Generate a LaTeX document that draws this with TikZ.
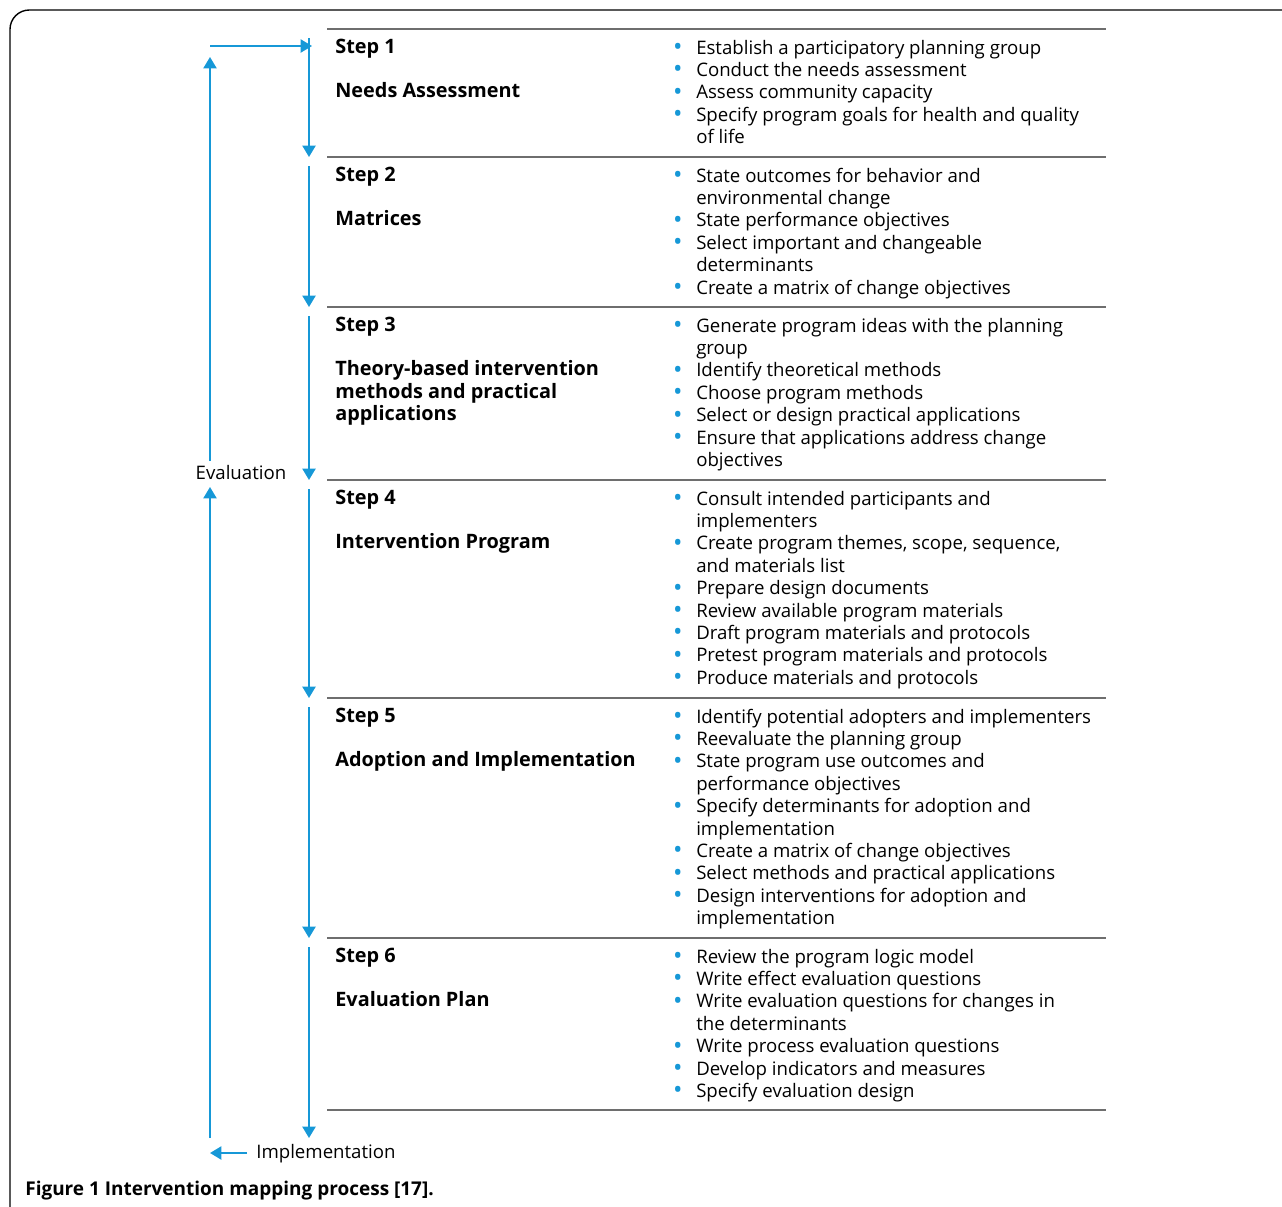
\documentclass[tikz,border=0pt]{standalone}
\usepackage{fontspec}
\setmainfont{Open Sans}
\usetikzlibrary{arrows.meta,positioning}
\definecolor{mapBlue}{RGB}{22,152,215}
\definecolor{ruleGray}{RGB}{110,110,110}
\newcommand{\mapbul}{\makebox[13.6pt][l]{\hspace{0.5pt}\raisebox{-0.8pt}{\scalebox{1.35}{\textcolor{mapBlue}{\textbullet}}}}}
\newcommand{\mapcont}{\hspace*{13.6pt}}
\begin{document}
\begin{tikzpicture}[
    x=0.02cm,y=-0.02cm,
    stepBox/.style={anchor=north west,inner sep=0pt,align=left,font=\fontsize{11.3}{12.76}\selectfont\bfseries},
    listBox/.style={anchor=north west,inner sep=0pt,align=left,font=\fontsize{10.6}{12.76}\selectfont},
    sideLabel/.style={inner sep=0pt,font=\fontsize{10.6}{12.76}\selectfont},
    mapArrow/.style={-{Triangle[length=6.5pt,width=7.5pt]},draw=mapBlue,line width=1.1pt},
    mapRule/.style={draw=ruleGray,line width=1.3pt},
]
\useasboundingbox (0,0) rectangle (1282,1207);
% outer frame (cut at the right and bottom)
\draw[line width=0.8pt,rounded corners=11pt] (10,1210) |- (1290,10);
% rules between the steps
\foreach \i/\y in {0/29,1/157,2/307,3/480,4/698,5/938,6/1110}{
  \coordinate (r\i w) at (327,\y);
  \coordinate (r\i e) at (1106,\y);
  \coordinate (a\i) at (309,\y+9);
  \coordinate (b\i) at (309,\y);
  \draw[mapRule] (r\i w) -- (r\i e);
}
% step names
\node[stepBox] (s1) at (335,37) {\strut Step 1\\[12.76pt]Needs Assessment};
\node[stepBox] (s2) at (335,165) {\strut Step 2\\[12.76pt]Matrices};
\node[stepBox] (s3) at (335,315) {\strut Step 3\\[12.76pt]Theory-based intervention\\methods and practical\\applications};
\node[stepBox] (s4) at (335,488) {\strut Step 4\\[12.76pt]Intervention Program};
\node[stepBox] (s5) at (335,706) {\strut Step 5\\[12.76pt]Adoption and Implementation};
\node[stepBox] (s6) at (335,946) {\strut Step 6\\[12.76pt]Evaluation Plan};
% tasks of each step
\node[listBox] (l1) at (672,38) {\strut\mapbul Establish a participatory planning group\\
  \mapbul Conduct the needs assessment\\
  \mapbul Assess community capacity\\
  \mapbul Specify program goals for health and quality\\
  \mapcont of life};
\node[listBox] (l2) at (672,166) {\strut\mapbul State outcomes for behavior and\\
  \mapcont environmental change\\
  \mapbul State performance objectives\\
  \mapbul Select important and changeable\\
  \mapcont determinants\\
  \mapbul Create a matrix of change objectives};
\node[listBox] (l3) at (672,316) {\strut\mapbul Generate program ideas with the planning\\
  \mapcont group\\
  \mapbul Identify theoretical methods\\
  \mapbul Choose program methods\\
  \mapbul Select or design practical applications\\
  \mapbul Ensure that applications address change\\
  \mapcont objectives};
\node[listBox] (l4) at (672,489) {\strut\mapbul Consult intended participants and\\
  \mapcont implementers\\
  \mapbul Create program themes, scope, sequence,\\
  \mapcont and materials list\\
  \mapbul Prepare design documents\\
  \mapbul Review available program materials\\
  \mapbul Draft program materials and protocols\\
  \mapbul Pretest program materials and protocols\\
  \mapbul Produce materials and protocols};
\node[listBox] (l5) at (672,707) {\strut\mapbul Identify potential adopters and implementers\\
  \mapbul Reevaluate the planning group\\
  \mapbul State program use outcomes and\\
  \mapcont performance objectives\\
  \mapbul Specify determinants for adoption and\\
  \mapcont implementation\\
  \mapbul Create a matrix of change objectives\\
  \mapbul Select methods and practical applications\\
  \mapbul Design interventions for adoption and\\
  \mapcont implementation};
\node[listBox] (l6) at (672,947) {\strut\mapbul Review the program logic model\\
  \mapbul Write effect evaluation questions\\
  \mapbul Write evaluation questions for changes in\\
  \mapcont the determinants\\
  \mapbul Write process evaluation questions\\
  \mapbul Develop indicators and measures\\
  \mapbul Specify evaluation design};
% flow from step to step
\draw[mapArrow] (a0) -- (b1);
\draw[mapArrow] (a1) -- (b2);
\draw[mapArrow] (a2) -- (b3);
\draw[mapArrow] (a3) -- (b4);
\draw[mapArrow] (a4) -- (b5);
\coordinate (a6) at (309,947);
\coordinate (b6) at (309,1138);
\draw[mapArrow] (a6) -- (b6);
% evaluation and implementation loop
\node[sideLabel] (eval) at (241,473) {Evaluation};
\node[sideLabel,anchor=west] (impl) at (256,1154) {Implementation};
\coordinate (evTop) at (210,57);
\coordinate (evMid) at (210,461);
\coordinate (evLow) at (210,487);
\coordinate (imBot) at (210,1138);
\coordinate (loopIn) at (210,46);
\coordinate (stepIn) at (312,46);
\coordinate (imEnd) at (210,1153);
\draw[mapArrow] (evMid) -- (evTop);
\draw[mapArrow] (imBot) -- (evLow);
\draw[mapArrow] (loopIn) -- (stepIn);
\draw[mapArrow] (impl.west) ++(-9,-1) -- (imEnd);
% caption
\node[anchor=west,inner sep=0pt,font=\fontsize{10.8}{14}\selectfont] (cap) at (25,1191) {\textbf{Figure 1 Intervention mapping process [17].}};
\end{tikzpicture}
\end{document}
